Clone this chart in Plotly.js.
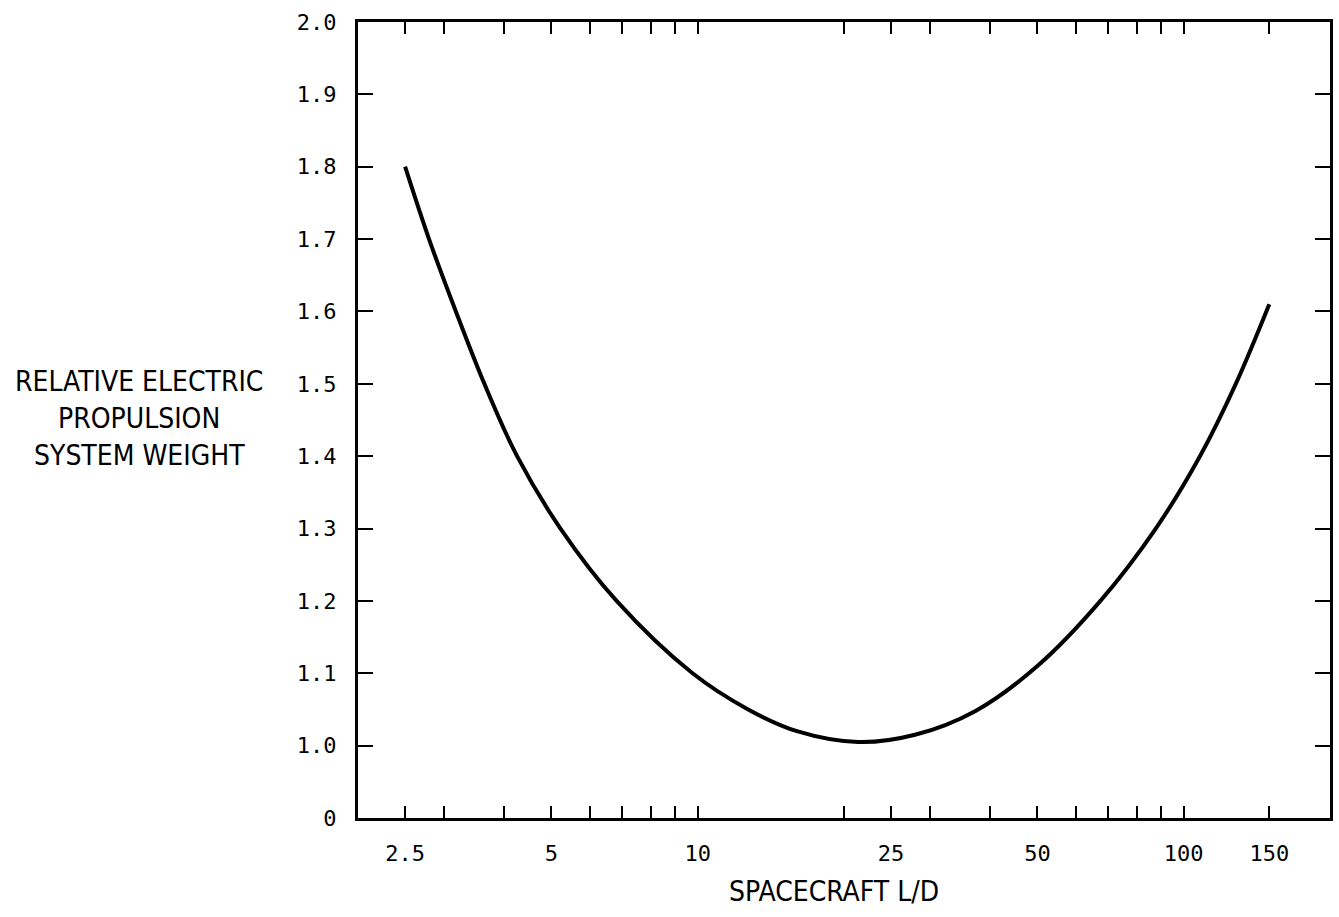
<!DOCTYPE html>
<html>
<head>
<meta charset="utf-8">
<script src="https://cdn.plot.ly/plotly-3.0.1.min.js"></script>
<style>html,body{margin:0;padding:0;background:#fff;}#chart{width:1339px;height:917px;}</style>
</head>
<body>
<div id="chart"></div>
<script>
// Spacecraft L/D (x, log scale)
const spacecraftLD = [2.5, 2.80, 3.18, 3.64, 4.25, 5.22, 6.81, 9.76, 12.7, 16, 21.4, 28, 37.3, 50, 67.4, 87.6, 108, 128, 150];
// Relative electric propulsion system weight (y)
const relativeWeight = [1.80, 1.70, 1.60, 1.50, 1.40, 1.30, 1.20, 1.10, 1.05, 1.02, 1.005, 1.015, 1.048, 1.11, 1.20, 1.30, 1.40, 1.50, 1.61];

const xTickVals = [2.5, 3, 4, 5, 6, 7, 8, 9, 10, 20, 25, 30, 40, 50, 60, 70, 80, 90, 100, 150];
const xTickText = ['2.5', '', '', '5', '', '', '', '', '10', '', '25', '', '', '50', '', '', '', '', '100', '150'];
const yTickVals = [0.9, 1.0, 1.1, 1.2, 1.3, 1.4, 1.5, 1.6, 1.7, 1.8, 1.9, 2.0];
const yTickText = ['0', '1.0', '1.1', '1.2', '1.3', '1.4', '1.5', '1.6', '1.7', '1.8', '1.9', '2.0'];

const tickFont = {family: 'DejaVu Sans Mono', size: 22, color: '#000'};
const titleFont = {family: 'DejaVu Sans Condensed', size: 28, color: '#000'};

const trace = {
  x: spacecraftLD, y: relativeWeight, type: 'scatter', mode: 'lines',
  line: {color: '#000', width: 4, shape: 'spline', smoothing: 1},
  hoverinfo: 'skip'
};

const layout = {
  width: 1339, height: 917,
  margin: {l: 358, r: 9, t: 22, b: 99},
  paper_bgcolor: '#fff', plot_bgcolor: '#fff',
  showlegend: false,
  xaxis: {
    type: 'log', range: [Math.log10(2), Math.log10(200)],
    tickmode: 'array', tickvals: xTickVals, ticktext: xTickText,
    ticks: 'inside', ticklen: 12, tickwidth: 2, tickcolor: '#000',
    showline: true, linecolor: '#000', linewidth: 3, mirror: 'ticks',
    showgrid: false, zeroline: false,
    tickfont: tickFont, ticklabelstandoff: 14
  },
  yaxis: {
    range: [0.9, 2.0],
    tickmode: 'array', tickvals: yTickVals, ticktext: yTickText,
    ticks: 'inside', ticklen: 15, tickwidth: 2, tickcolor: '#000',
    showline: true, linecolor: '#000', linewidth: 3, mirror: 'ticks',
    showgrid: false, zeroline: false,
    tickfont: tickFont, ticklabelstandoff: 14
  },
  annotations: [
    {text: 'RELATIVE ELECTRIC', xref: 'paper', yref: 'paper', x: 0, y: (818 - 382) / 796, xshift: -219, xanchor: 'center', yanchor: 'middle', showarrow: false, font: titleFont},
    {text: 'PROPULSION', xref: 'paper', yref: 'paper', x: 0, y: (818 - 418) / 796, xshift: -219, xanchor: 'center', yanchor: 'middle', showarrow: false, font: titleFont},
    {text: 'SYSTEM WEIGHT', xref: 'paper', yref: 'paper', x: 0, y: (818 - 455) / 796, xshift: -219, xanchor: 'center', yanchor: 'middle', showarrow: false, font: titleFont},
    {text: 'SPACECRAFT L/D', xref: 'paper', yref: 'paper', x: 0.49, y: -(892 - 818) / 796, xanchor: 'center', yanchor: 'middle', showarrow: false, font: titleFont}
  ]
};

Plotly.newPlot('chart', [trace], layout, {displayModeBar: false, staticPlot: true});
</script>
</body>
</html>
